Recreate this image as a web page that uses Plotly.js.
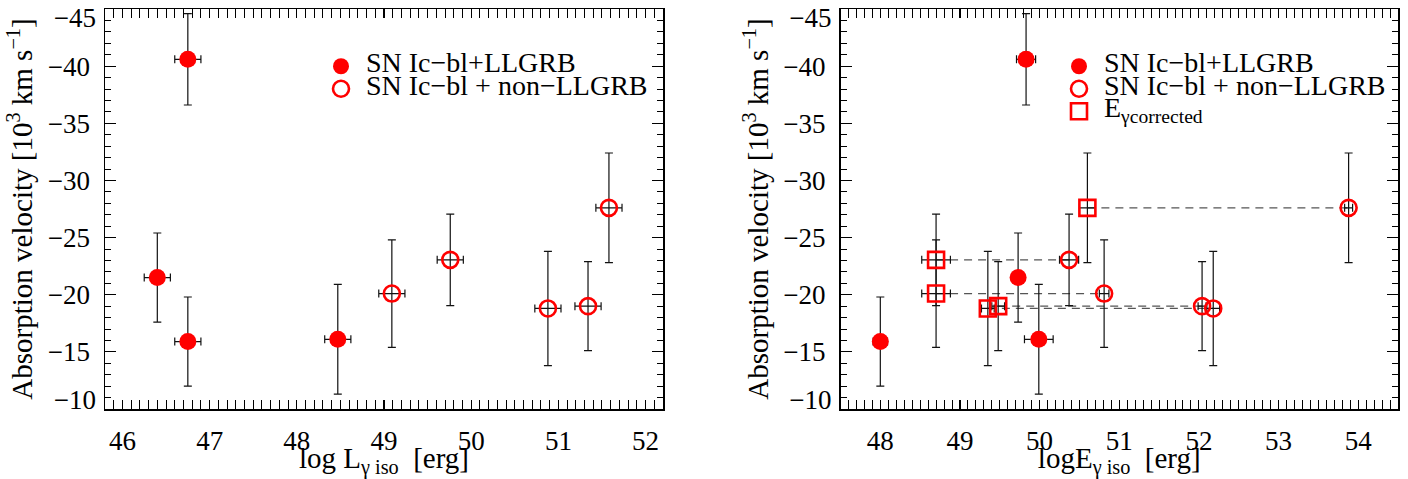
<!DOCTYPE html>
<html>
<head>
<meta charset="utf-8">
<script src="https://cdn.plot.ly/plotly-3.0.1.min.js"></script>
<style>html,body{margin:0;padding:0;background:#fff;}#chart{width:1408px;height:479px;}</style>
</head>
<body>
<div id="chart"></div>
<script>
// ---- data (velocities in 10^3 km/s) ----
// SN Ic-bl + LLGRB
const llgrbLogL     = [46.75, 46.40, 46.75, 48.47];
const llgrbLogLErr  = [0.15, 0.15, 0.15, 0.15];
const llgrbLogE     = [49.83, 49.73, 48.00, 49.99];
const llgrbLogEErr  = [0.12, 0.04, 0.09, 0.18];
const llgrbVel      = [-40.6, -21.5, -15.9, -16.1];
const llgrbVelErr   = [4.0, 3.9, 3.9, 4.8];
// SN Ic-bl + non-LLGRB
const nonLogL       = [49.09, 49.76, 50.88, 51.34, 51.58];
const nonLogLErr    = [0.15, 0.15, 0.15, 0.15, 0.15];
const nonLogE       = [50.81, 50.37, 52.18, 52.04, 53.88];
const nonLogEErr    = [0.06, 0.12, 0.08, 0.05, 0.05];
const nonVel        = [-20.1, -23.05, -18.8, -19.0, -27.6];
const nonVelErr     = [4.7, 4.0, 5.0, 3.9, 4.8];
// E_gamma corrected (same SNe as non-LLGRB)
const corrLogE      = [48.70, 48.70, 49.35, 49.48, 50.60];
const corrLogEErr   = [0.18, 0.18, 0.08, 0.08, 0.10];

const leftTicks  = [46, 47, 48, 49, 50, 51, 52];
const rightTicks = [48, 49, 50, 51, 52, 53, 54];
const velTicks   = [-45, -40, -35, -30, -25, -20, -15, -10];

const seriesNames = ['SN Ic\u2212bl+LLGRB', 'SN Ic\u2212bl + non\u2212LLGRB', 'E<sub>\u03b3corrected</sub>'];

const RED = '#ff0000';
const FONT = 'Liberation Serif, Times New Roman, serif';
const TICK_SIZE = 27, TITLE_SIZE = 29, LEG_SIZE = 28;

function fmt(v){return v < 0 ? '\u2212' + Math.abs(v) : String(v);}
function big(t){return '<span style="font-size:' + LEG_SIZE + 'px">' + t + '</span>';}
function errY(arr){return {type:'data', array:arr, visible:true, color:'#111', thickness:1.2, width:4};}
function errX(arr){return {type:'data', array:arr, visible:true, color:'#111', thickness:1.2, width:4};}

const filledMarker = {symbol:'circle', size:17, color:RED, line:{width:0}};
const openMarker   = {symbol:'circle-open', size:16, color:RED, line:{width:2.6, color:RED}};
const squareMarker = {symbol:'square-open', size:16, color:RED, line:{width:2.6, color:RED}};

// dashed connectors between corrected and isotropic energies
const dashX = [], dashY = [];
for (let i = 0; i < corrLogE.length; i++) {
  dashX.push(corrLogE[i], nonLogE[i], null);
  dashY.push(nonVel[i], nonVel[i], null);
}

const traces = [
  {x:llgrbLogL, y:llgrbVel, xaxis:'x', yaxis:'y', mode:'markers', type:'scatter',
   name:big(seriesNames[0]), legend:'legend', marker:filledMarker,
   error_y:errY(llgrbVelErr), error_x:errX(llgrbLogLErr)},
  {x:nonLogL, y:nonVel, xaxis:'x', yaxis:'y', mode:'markers', type:'scatter',
   name:big(seriesNames[1]), legend:'legend', marker:openMarker,
   error_y:errY(nonVelErr), error_x:errX(nonLogLErr)},
  {x:dashX, y:dashY, xaxis:'x2', yaxis:'y2', mode:'lines', type:'scatter', showlegend:false,
   line:{color:'#555', width:1.3, dash:'8px,6px'}, hoverinfo:'skip'},
  {x:llgrbLogE, y:llgrbVel, xaxis:'x2', yaxis:'y2', mode:'markers', type:'scatter',
   name:big(seriesNames[0]), legend:'legend2', marker:filledMarker,
   error_y:errY(llgrbVelErr), error_x:errX(llgrbLogEErr)},
  {x:nonLogE, y:nonVel, xaxis:'x2', yaxis:'y2', mode:'markers', type:'scatter',
   name:big(seriesNames[1]), legend:'legend2', marker:openMarker,
   error_y:errY(nonVelErr), error_x:errX(nonLogEErr)},
  {x:corrLogE, y:nonVel, xaxis:'x2', yaxis:'y2', mode:'markers', type:'scatter',
   name:big(seriesNames[2]), legend:'legend2', marker:squareMarker,
   error_y:errY(nonVelErr), error_x:errX(corrLogEErr)}
];

function xAxis(domain, range, ticks, title, anchor){
  return {
    domain:domain, range:range, anchor:anchor, tickmode:'array', tickvals:ticks,
    ticktext:ticks.map(String), ticks:'inside', ticklen:9, tickwidth:1.2, tickcolor:'#000',
    mirror:'allticks', showline:true, linecolor:'#000', linewidth:1.5, showgrid:false, zeroline:false,
    minor:{dtick:0.1, tick0:0, ticks:'inside', ticklen:5, tickwidth:1, tickcolor:'#000', showgrid:false},
    ticklabelstandoff:7,
    tickfont:{family:FONT, size:TICK_SIZE, color:'#000'},
    title:{text:title, font:{family:FONT, size:TITLE_SIZE, color:'#000'}, standoff:2}
  };
}
// main velocity axis: all ticks; the two end labels are drawn by overlay axes below
function yAxis(anchor){
  const inner = velTicks.map((v, i) => (i === 0 || i === velTicks.length - 1) ? '' : fmt(v));
  return {
    domain:[0,1], range:[-10, -45], anchor:anchor, tickmode:'array', tickvals:velTicks, ticktext:inner,
    ticks:'inside', ticklen:11, tickwidth:1.2, tickcolor:'#000',
    mirror:'allticks', showline:true, linecolor:'#000', linewidth:1.5, showgrid:false, zeroline:false,
    minor:{dtick:1, tick0:0, ticks:'inside', ticklen:6, tickwidth:1, tickcolor:'#000', showgrid:false},
    ticklabelstandoff:8,
    tickfont:{family:FONT, size:TICK_SIZE, color:'#000'},
    title:{text:'Absorption velocity [10<sup>3</sup> km s<sup>\u22121</sup>]',
           font:{family:FONT, size:TITLE_SIZE, color:'#000'}, standoff:6}
  };
}
// overlay axis carrying only one end label, nudged inside the frame
function endLabelAxis(over, anchor, val, shift){
  return {
    overlaying:over, anchor:anchor, side:'left', range:[-10, -45], tickmode:'array',
    tickvals:[val], ticktext:[fmt(val)], ticks:'', showline:false, showgrid:false, zeroline:false,
    ticklabelshift:shift, ticklabelstandoff:8,
    tickfont:{family:FONT, size:TICK_SIZE, color:'#000'}
  };
}

const W = 1408;
const mL = 105, mR = 10;
const plotW = W - mL - mR;
const leftEnd = (663 - mL) / plotW;
const rightStart = (840.5 - mL) / plotW;
const legTopY = 1 - (50 - 9) / 400;
const topVel = velTicks[0], botVel = velTicks[velTicks.length - 1];

const layout = {
  width:W, height:479,
  margin:{l:mL, r:mR, t:9, b:70, pad:0},
  paper_bgcolor:'#fff', plot_bgcolor:'#fff',
  font:{family:FONT, size:TICK_SIZE, color:'#000'},
  xaxis: xAxis([0, leftEnd], [45.8, 52.2], leftTicks, 'log L<sub>\u03b3 iso</sub>  [erg]', 'y'),
  yaxis: yAxis('x'),
  xaxis2: xAxis([rightStart, 1], [47.5, 54.5], rightTicks, 'logE<sub>\u03b3 iso</sub>  [erg]', 'y2'),
  yaxis2: yAxis('x2'),
  yaxis3: endLabelAxis('y', 'x', topVel, -9),
  yaxis4: endLabelAxis('y', 'x', botVel, 9),
  yaxis5: endLabelAxis('y2', 'x2', topVel, -9),
  yaxis6: endLabelAxis('y2', 'x2', botVel, 9),
  legend:{x:(316 - mL)/plotW, y:legTopY, xanchor:'left', yanchor:'top', bgcolor:'rgba(0,0,0,0)',
          font:{family:FONT, size:15, color:'#000'}, tracegroupgap:0, itemwidth:40},
  legend2:{x:(1054 - mL)/plotW, y:legTopY, xanchor:'left', yanchor:'top', bgcolor:'rgba(0,0,0,0)',
          font:{family:FONT, size:15, color:'#000'}, tracegroupgap:0, itemwidth:40},
  showlegend:true
};

// empty helper traces so the overlay axes are drawn
['y3','y4'].forEach(ya => traces.push({x:[], y:[], xaxis:'x', yaxis:ya, type:'scatter', mode:'markers', showlegend:false, hoverinfo:'skip'}));
['y5','y6'].forEach(ya => traces.push({x:[], y:[], xaxis:'x2', yaxis:ya, type:'scatter', mode:'markers', showlegend:false, hoverinfo:'skip'}));

Plotly.newPlot('chart', traces, layout, {displayModeBar:false, staticPlot:true});
</script>
</body>
</html>
